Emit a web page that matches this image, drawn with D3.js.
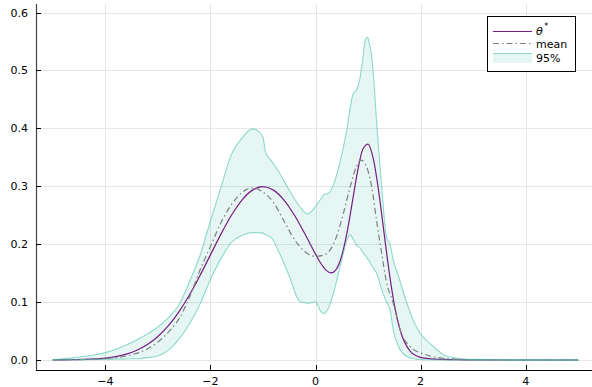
<!DOCTYPE html>
<html><head><meta charset="utf-8">
<script src="https://cdn.jsdelivr.net/npm/d3@7"></script>
<style>
html,body{margin:0;padding:0;background:#fff;}
svg{display:block;font-family:"DejaVu Sans",sans-serif;}
</style></head>
<body>
<svg id="chart" width="592" height="387"></svg>
<script>
// ---- data ----
const thetaX = [-5,-4.8,-4.6,-4.4,-4.2,-4,-3.8,-3.6,-3.4,-3.2,-3,-2.8,-2.6,-2.4,-2.2,-2,-1.8,-1.6,-1.4,-1.2,-1,-0.8,-0.6,-0.4,-0.2,0,0.1,0.2,0.3,0.4,0.5,0.6,0.7,0.8,0.9,1,1.1,1.2,1.3,1.4,1.5,1.6,1.8,2,2.2,2.4,2.6,2.8,3,3.5,4,4.5,5];
const thetaY = [0.0001,0.0002,0.0005,0.0009,0.0018,0.0033,0.0059,0.0102,0.0168,0.0266,0.0405,0.0592,0.0832,0.1123,0.1456,0.1815,0.2173,0.2499,0.2762,0.2933,0.2992,0.2933,0.2762,0.2499,0.2174,0.1828,0.1671,0.1551,0.1504,0.1573,0.1800,0.2199,0.2722,0.3254,0.3637,0.3729,0.3475,0.2928,0.2229,0.1535,0.0961,0.0552,0.0154,0.0046,0.0019,0.0009,0.0005,0.0002,0.0001,0,0,0,0];

const meanX = [-5,-4.5,-4,-3.6,-3.2,-3,-2.8,-2.6,-2.4,-2.2,-2,-1.8,-1.5,-1.3,-1.18,-1,-0.8,-0.6,-0.4,-0.2,0,0.15,0.28,0.4,0.53,0.66,0.78,0.87,0.97,1.07,1.16,1.26,1.35,1.48,1.61,1.8,2.12,2.43,3,4,5];
const meanY = [0.0001,0.0006,0.0025,0.007,0.019,0.031,0.048,0.071,0.108,0.155,0.196,0.237,0.280,0.295,0.297,0.290,0.272,0.240,0.208,0.187,0.179,0.181,0.190,0.213,0.253,0.299,0.334,0.345,0.334,0.299,0.242,0.184,0.135,0.098,0.052,0.023,0.0086,0.003,0.0005,0,0];

const bandX  = [-5,-4.6,-4.2,-4,-3.7,-3.4,-3.2,-3,-2.8,-2.6,-2.4,-2.2,-2,-1.8,-1.6,-1.4,-1.2,-1.1,-1.0,-0.95,-0.85,-0.7,-0.5,-0.3,-0.15,0,0.1,0.15,0.25,0.35,0.5,0.6,0.66,0.72,0.78,0.85,0.9,0.95,0.99,1.03,1.07,1.12,1.16,1.26,1.35,1.42,1.48,1.58,1.74,1.86,2,2.2,2.45,2.7,3,3.5,4,5];
const bandLo = [0,0.0003,0.0008,0.001,0.0015,0.002,0.004,0.007,0.017,0.036,0.062,0.096,0.139,0.175,0.203,0.215,0.220,0.220,0.219,0.216,0.212,0.187,0.145,0.101,0.098,0.100,0.084,0.080,0.090,0.118,0.173,0.207,0.216,0.208,0.198,0.193,0.186,0.180,0.175,0.170,0.163,0.156,0.150,0.122,0.100,0.086,0.052,0.023,0.006,0.002,0.0008,0.0003,0.0001,0,0,0,0,0];
const bandHi = [0.0005,0.004,0.009,0.0127,0.022,0.035,0.045,0.057,0.073,0.095,0.135,0.180,0.240,0.298,0.355,0.383,0.399,0.396,0.385,0.358,0.345,0.325,0.293,0.265,0.252,0.265,0.278,0.285,0.288,0.305,0.355,0.400,0.435,0.461,0.466,0.489,0.520,0.553,0.557,0.545,0.524,0.470,0.415,0.300,0.213,0.200,0.173,0.145,0.098,0.069,0.045,0.027,0.0086,0.003,0.001,0.0003,0.0001,0];

const xTicks = [-4,-2,0,2,4];
const yTicks = [0,0.1,0.2,0.3,0.4,0.5,0.6];
const legendLabels = ["θ", "mean", "95%"];

// ---- drawing ----
const svg = d3.select("#chart");
const L = 36, R = 595, T = 4, B = 370;
const x = d3.scaleLinear().domain([-5.32, 5.32]).range([L, R]);
const y = d3.scaleLinear().domain([-0.0173, 0.6147]).range([B, T]);
const TEAL = "rgb(60,190,165)", PURPLE = "#781c84", GRAY = "#7f7f7f";

svg.append("defs").append("clipPath").attr("id","clip")
  .append("rect").attr("x",L).attr("y",T).attr("width",592-L).attr("height",B-T);

// grid
const grid = svg.append("g");
grid.selectAll("line.gx").data(xTicks).join("line")
  .attr("x1",d=>Math.round(x(d))+0.5).attr("x2",d=>Math.round(x(d))+0.5)
  .attr("y1",T).attr("y2",B).attr("stroke","#e6e6e6").attr("stroke-width",1);
grid.selectAll("line.gy").data(yTicks).join("line")
  .attr("y1",d=>Math.round(y(d))+0.5).attr("y2",d=>Math.round(y(d))+0.5)
  .attr("x1",L).attr("x2",592).attr("stroke","#e6e6e6").attr("stroke-width",1);

const plot = svg.append("g").attr("clip-path","url(#clip)");

const thetaPts = thetaX.map((v,i)=>[v,thetaY[i]]);
const meanPts = meanX.map((v,i)=>[v,meanY[i]]);
const bandPts = bandX.map((v,i)=>[v,bandLo[i],bandHi[i]]);

const line = d3.line().x(d=>x(d[0])).y(d=>y(d[1])).curve(d3.curveMonotoneX);
const area = d3.area().x(d=>x(d[0])).y0(d=>y(d[1])).y1(d=>y(d[2])).curve(d3.curveMonotoneX);

plot.append("path").datum(bandPts).attr("d",area)
  .attr("fill",TEAL).attr("fill-opacity",0.13).attr("stroke","none");

plot.append("path").datum(thetaPts).attr("d",line)
  .attr("fill","none").attr("stroke",PURPLE).attr("stroke-width",1.2);
plot.append("path").datum(meanPts).attr("d",line)
  .attr("fill","none").attr("stroke",GRAY).attr("stroke-width",1.2)
  .attr("stroke-dasharray","6,3,1.5,3");

const lo = d3.line().x(d=>x(d[0])).y(d=>y(d[1])).curve(d3.curveMonotoneX);
const hi = d3.line().x(d=>x(d[0])).y(d=>y(d[2])).curve(d3.curveMonotoneX);
[lo,hi].forEach(g=>plot.append("path").datum(bandPts).attr("d",g)
  .attr("fill","none").attr("stroke",TEAL).attr("stroke-opacity",0.55).attr("stroke-width",1.1));

// axes
const axG = svg.append("g");
axG.append("line").attr("x1",L+0.5).attr("x2",L+0.5).attr("y1",T).attr("y2",B)
  .attr("stroke","#444").attr("stroke-width",1.2);
axG.append("line").attr("x1",L).attr("x2",592).attr("y1",B+0.5).attr("y2",B+0.5)
  .attr("stroke","#000").attr("stroke-width",1);

axG.selectAll("line.tx").data(xTicks).join("line")
  .attr("x1",d=>Math.round(x(d))+0.5).attr("x2",d=>Math.round(x(d))+0.5)
  .attr("y1",B).attr("y2",B-5).attr("stroke","#000");
axG.selectAll("line.ty").data(yTicks).join("line")
  .attr("y1",d=>Math.round(y(d))+0.5).attr("y2",d=>Math.round(y(d))+0.5)
  .attr("x1",L).attr("x2",L+5).attr("stroke","#000");

const fmtX = d => (d<0 ? "\u2212"+Math.abs(d) : String(d));
axG.selectAll("text.tx").data(xTicks).join("text")
  .attr("x",d=>x(d)).attr("y",385).attr("text-anchor","middle")
  .attr("font-size",11).attr("fill","#000").text(fmtX);
axG.selectAll("text.ty").data(yTicks).join("text")
  .attr("x",28).attr("y",d=>y(d)+4).attr("text-anchor","end")
  .attr("font-size",11).attr("fill","#000").text(d=>d.toFixed(1));

// legend
const lg = svg.append("g");
lg.append("rect").attr("x",487.5).attr("y",16.5).attr("width",88).attr("height",55)
  .attr("fill","#fff").attr("stroke","#000").attr("stroke-width",1);
lg.append("line").attr("x1",493).attr("x2",532).attr("y1",31.5).attr("y2",31.5)
  .attr("stroke",PURPLE).attr("stroke-width",1.2);
lg.append("line").attr("x1",493).attr("x2",532).attr("y1",43.5).attr("y2",43.5)
  .attr("stroke",GRAY).attr("stroke-width",1.2).attr("stroke-dasharray","6,3,1.5,3");
lg.append("rect").attr("x",493).attr("y",53).attr("width",39).attr("height",10)
  .attr("fill",TEAL).attr("fill-opacity",0.13);
lg.append("line").attr("x1",493).attr("x2",532).attr("y1",53.5).attr("y2",53.5)
  .attr("stroke",TEAL).attr("stroke-opacity",0.55).attr("stroke-width",1.1);
const t0 = lg.append("text").attr("x",536).attr("y",35).attr("font-size",11).attr("fill","#000");
t0.append("tspan").attr("font-style","italic").text(legendLabels[0]);
t0.append("tspan").attr("dx",1.5).attr("dy",-6).attr("font-size",8).text("*");
lg.append("text").attr("x",536).attr("y",47.5).attr("font-size",11).attr("fill","#000").text(legendLabels[1]);
lg.append("text").attr("x",536).attr("y",62).attr("font-size",11).attr("fill","#000").text(legendLabels[2]);
</script>
</body></html>
